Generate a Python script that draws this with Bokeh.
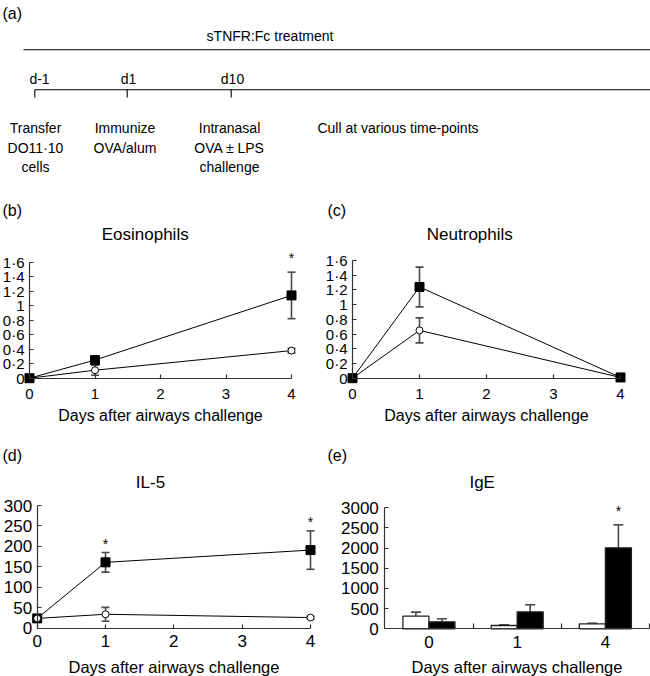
from bokeh.plotting import figure
from bokeh.layouts import column, row
from bokeh.models import Range1d, LinearAxis, FixedTicker, Label, ColumnDataSource
from bokeh.transform import dodge
from bokeh.embed import file_html
from bokeh.resources import INLINE
from bokeh.core.properties import value

FONT = "Liberation Sans"

# ---------------- data ----------------
days = [0, 1, 4]
day_ticks = [0, 1, 2, 3, 4]

eos_filled = [0.0, 0.25, 1.14]
eos_filled_err = [0.0, 0.05, 0.32]
eos_open = [0.0, 0.11, 0.38]
eos_open_err = [0.0, 0.07, 0.03]
eos_sig = [False, False, True]

neu_filled = [0.0, 1.24, 0.01]
neu_filled_err = [0.0, 0.27, 0.0]
neu_open = [0.0, 0.65, 0.01]
neu_open_err = [0.0, 0.17, 0.0]
neu_sig = [False, False, False]

cell_yticks = [0, 0.2, 0.4, 0.6, 0.8, 1, 1.2, 1.4, 1.6]
cell_ylabels = ["0", "0·2", "0·4", "0·6", "0·8", "1", "1·2", "1·4", "1·6"]

il5_filled = [24, 161, 191]
il5_filled_err = [0, 24, 47]
il5_open = [24, 34, 26]
il5_open_err = [0, 17, 3]
il5_sig = [False, True, True]
il5_yticks = [0, 50, 100, 150, 200, 250, 300]
il5_ylabels = ["0", "50", "100", "150", "200", "250", "300"]

ige_days = ["0", "1", "4"]
ige_open = [313, 82, 124]
ige_open_err = [100, 17, 15]
ige_filled = [173, 421, 2008]
ige_filled_err = [75, 175, 570]
ige_sig = [False, False, True]
ige_yticks = [0, 500, 1000, 1500, 2000, 2500, 3000]

timeline_days = ["d-1", "d1", "d10"]
timeline_events = [["Transfer", "DO11·10", "cells"],
                   ["Immunize", "OVA/alum"],
                   ["Intranasal", "OVA ± LPS", "challenge"],
                   ["Cull at various time-points"]]
treatment_label = "sTNFR:Fc treatment"
xlabel = "Days after airways challenge"

AX = "#333333"
ERR = "#4a4a4a"


def make_panel(W, H, xmap, ymap):
    (x0, a), (x1, b) = xmap
    (y0, c), (y1, d) = ymap
    sx = (b - a) / (x1 - x0)
    xs = x0 - a / sx
    sy = (c - d) / (y1 - y0)
    ys = y0 - (H - c) / sy
    p = figure(width=W, height=H, x_range=Range1d(xs, xs + W / sx),
               y_range=Range1d(ys, ys + H / sy), output_backend="svg",
               toolbar_location=None, x_axis_type=None, y_axis_type=None)
    p.min_border_left = p.min_border_right = 0
    p.min_border_top = p.min_border_bottom = 0
    p.outline_line_color = None
    fx = lambda px: xs + px / sx
    fy = lambda py: ys + (H - py) / sy
    return p, fx, fy


def style_axis(ax, tick_size="15px", label_size="16px"):
    ax.axis_line_color = AX
    ax.axis_line_width = 1.2
    ax.major_tick_line_color = AX
    ax.major_tick_line_width = 1.2
    ax.major_tick_in = 4
    ax.major_tick_out = 0
    ax.minor_tick_line_color = None
    ax.major_label_text_font = FONT
    ax.major_label_text_font_size = tick_size
    ax.major_label_text_color = "black"
    ax.axis_label_text_font = FONT
    ax.axis_label_text_font_size = label_size
    ax.axis_label_text_font_style = "normal"
    ax.axis_label_text_color = "black"


def add_label(p, x, y, text, size="16px", align="center"):
    p.add_layout(Label(x=x, y=y, text=text, text_font=FONT, text_font_size=size,
                       text_align=align, text_baseline="middle", text_color="black"))


def line_panel(W, H, xmap, ymap, filled, filled_err, opn, opn_err, sig,
               yticks, ylabels, title, letter, title_px, open_on_top=False,
               tick_size="15px", label_size="16px", tick_standoff=11, label_standoff=4,
               star_offset=-14):
    p, fx, fy = make_panel(W, H, xmap, ymap)
    xa = LinearAxis(fixed_location=0, bounds=(0, 4), ticker=FixedTicker(ticks=day_ticks),
                    axis_label=xlabel)
    style_axis(xa, tick_size, label_size)
    xa.major_label_standoff = tick_standoff
    xa.axis_label_standoff = label_standoff
    ya = LinearAxis(fixed_location=0, bounds=(yticks[0], yticks[-1]),
                    ticker=FixedTicker(ticks=yticks),
                    major_label_overrides=dict(zip(yticks, ylabels)))
    style_axis(ya, tick_size, label_size)
    ya.major_label_standoff = 5
    p.add_layout(xa, "below")
    p.add_layout(ya, "left")

    p.line(days, opn, line_color="black", line_width=1)
    p.line(days, filled, line_color="black", line_width=1)
    for vals, errs in ((opn, opn_err), (filled, filled_err)):
        ex = [d for d, e in zip(days, errs) if e > 0]
        lo = [v - e for v, e in zip(vals, errs) if e > 0]
        hi = [v + e for v, e in zip(vals, errs) if e > 0]
        p.segment(ex, lo, ex, hi, line_color=ERR, line_width=1.6)
        p.scatter(ex + ex, lo + hi, marker="dash", size=8, line_color=ERR, line_width=1.6)

    def draw_open():
        p.scatter(days, opn, marker="circle", size=7, fill_color="white",
                  line_color="black", line_width=1)

    def draw_filled():
        p.scatter(days, filled, marker="square", size=9, fill_color="black",
                  line_color="black", line_width=1)

    if open_on_top:
        draw_filled(); draw_open()
    else:
        draw_open(); draw_filled()

    sx_ = [d for d, s in zip(days, sig) if s]
    sy_ = [v + e for v, e, s in zip(filled, filled_err, sig) if s]
    if sx_:
        p.text(sx_, sy_, text=["*"] * len(sx_), text_font=value(FONT), text_font_size="14px",
               text_align="center", text_baseline="alphabetic", y_offset=star_offset)

    add_label(p, fx(title_px[0]), fy(title_px[1]), title, "17px")
    add_label(p, fx(2), fy(title_px[2]), letter, "16px", "left")
    return p


# ---------------- (a) timeline ----------------
WA, HA = 650, 195
pa = figure(width=WA, height=HA, x_range=Range1d(0, WA), y_range=Range1d(HA, 0),
            output_backend="svg", toolbar_location=None, x_axis_type=None, y_axis_type=None)
pa.min_border_left = pa.min_border_right = pa.min_border_top = pa.min_border_bottom = 0
pa.outline_line_color = None

tick_px = [34.3, 126.7, 230.7]
pa.segment([23, 34.3], [49.3, 89.3], [WA, WA], [49.3, 89.3], line_color="black", line_width=1.1)
pa.segment(tick_px, [89.3] * 3, tick_px, [97] * 3, line_color="black", line_width=1.1)
pa.text([269.5], [35], text=[treatment_label], text_font=value(FONT), text_font_size="14px",
        text_align="center", text_baseline="middle")
pa.text([39, 128, 232], [78] * 3, text=timeline_days, text_font=value(FONT),
        text_font_size="14px", text_align="center", text_baseline="middle")
ev_x = [35, 124.5, 229, 397.5]
ev_y = [127, 147, 166]
tx, ty, tt = [], [], []
for x, lines in zip(ev_x, timeline_events):
    for k, s in enumerate(lines):
        tx.append(x); ty.append(ev_y[k]); tt.append(s)
pa.text(tx, ty, text=tt, text_font=value(FONT), text_font_size="14px",
        text_align="center", text_baseline="middle")
pa.text([2], [13], text=["(a)"], text_font=value(FONT), text_font_size="16px",
        text_align="left", text_baseline="middle")

# ---------------- (b) (c) ----------------
pb = line_panel(325, 245, ((0, 29), (4, 291)), ((0, 182.7), (1.6, 66.5)),
                eos_filled, eos_filled_err, eos_open, eos_open_err, eos_sig,
                cell_yticks, cell_ylabels, "Eosinophils", "(b)", (144.7, 39, 15))
pc = line_panel(325, 245, ((0, 27), (4, 295)), ((0, 182.7), (1.6, 65)),
                neu_filled, neu_filled_err, neu_open, neu_open_err, neu_sig,
                cell_yticks, cell_ylabels, "Neutrophils", "(c)", (144.3, 39, 15))

# ---------------- (d) ----------------
pd_ = line_panel(325, 236, ((0, 36.7), (4, 310)), ((0, 187.7), (300, 65)),
                 il5_filled, il5_filled_err, il5_open, il5_open_err, il5_sig,
                 il5_yticks, il5_ylabels, "IL-5", "(d)", (150, 41.7, 15), open_on_top=True,
                 tick_size="17px", label_size="16.5px", tick_standoff=7, label_standoff=7,
                 star_offset=-9)

# ---------------- (e) ----------------
pe, fxe, fye = make_panel(325, 236, ((-0.5, 59.3), (2.5, 324)), ((0, 188.3), (3000, 67.3)))
xpos = list(range(len(ige_days)))
src = ColumnDataSource(dict(
    x=xpos, open=ige_open, filled=ige_filled,
    open_hi=[v + e for v, e in zip(ige_open, ige_open_err)],
    filled_hi=[v + e for v, e in zip(ige_filled, ige_filled_err)]))
OFF = 0.1475
BW = 0.295
pe.segment(x0=dodge("x", -OFF), y0="open", x1=dodge("x", -OFF), y1="open_hi",
           source=src, line_color=ERR, line_width=1.6)
pe.segment(x0=dodge("x", OFF), y0="filled", x1=dodge("x", OFF), y1="filled_hi",
           source=src, line_color=ERR, line_width=1.6)
pe.scatter(x=dodge("x", -OFF), y="open_hi", source=src, marker="dash", size=10,
           line_color=ERR, line_width=1.6)
pe.scatter(x=dodge("x", OFF), y="filled_hi", source=src, marker="dash", size=10,
           line_color=ERR, line_width=1.6)
pe.vbar(x=dodge("x", -OFF), width=BW, top="open", bottom=0, source=src,
        fill_color="white", line_color="#222222", line_width=1.3)
pe.vbar(x=dodge("x", OFF), width=BW, top="filled", bottom=0, source=src,
        fill_color="black", line_color="#222222", line_width=1.3)

xe = LinearAxis(fixed_location=0, bounds=(-0.5, 2.5),
                ticker=FixedTicker(ticks=xpos, minor_ticks=[i + 0.5 for i in xpos]),
                major_label_overrides={i: d for i, d in zip(xpos, ige_days)},
                axis_label=xlabel)
style_axis(xe, "17px", "16.5px")
xe.major_tick_in = 0
xe.minor_tick_line_color = AX
xe.minor_tick_line_width = 1.2
xe.minor_tick_in = 5
xe.minor_tick_out = 0
xe.major_label_standoff = 7
xe.axis_label_standoff = 7
ye = LinearAxis(fixed_location=-0.5, bounds=(0, 3000), ticker=FixedTicker(ticks=ige_yticks))
style_axis(ye, "17px", "16.5px")
ye.major_label_standoff = 6
pe.add_layout(xe, "below")
pe.add_layout(ye, "left")
sxe = [i + OFF for i, s in zip(xpos, ige_sig) if s]
sye = [v + e for v, e, s in zip(ige_filled, ige_filled_err, ige_sig) if s]
pe.text(sxe, sye, text=["*"] * len(sxe), text_font=value(FONT), text_font_size="14px",
        text_align="center", text_baseline="alphabetic", y_offset=-14)
add_label(pe, fxe(156.7), fye(41.7), "IgE", "17px")
add_label(pe, fxe(2), fye(15), "(e)", "16px", "left")

layout = column(pa, row(pb, pc), row(pd_, pe))
open("out.html", "w").write(file_html(layout, INLINE))
